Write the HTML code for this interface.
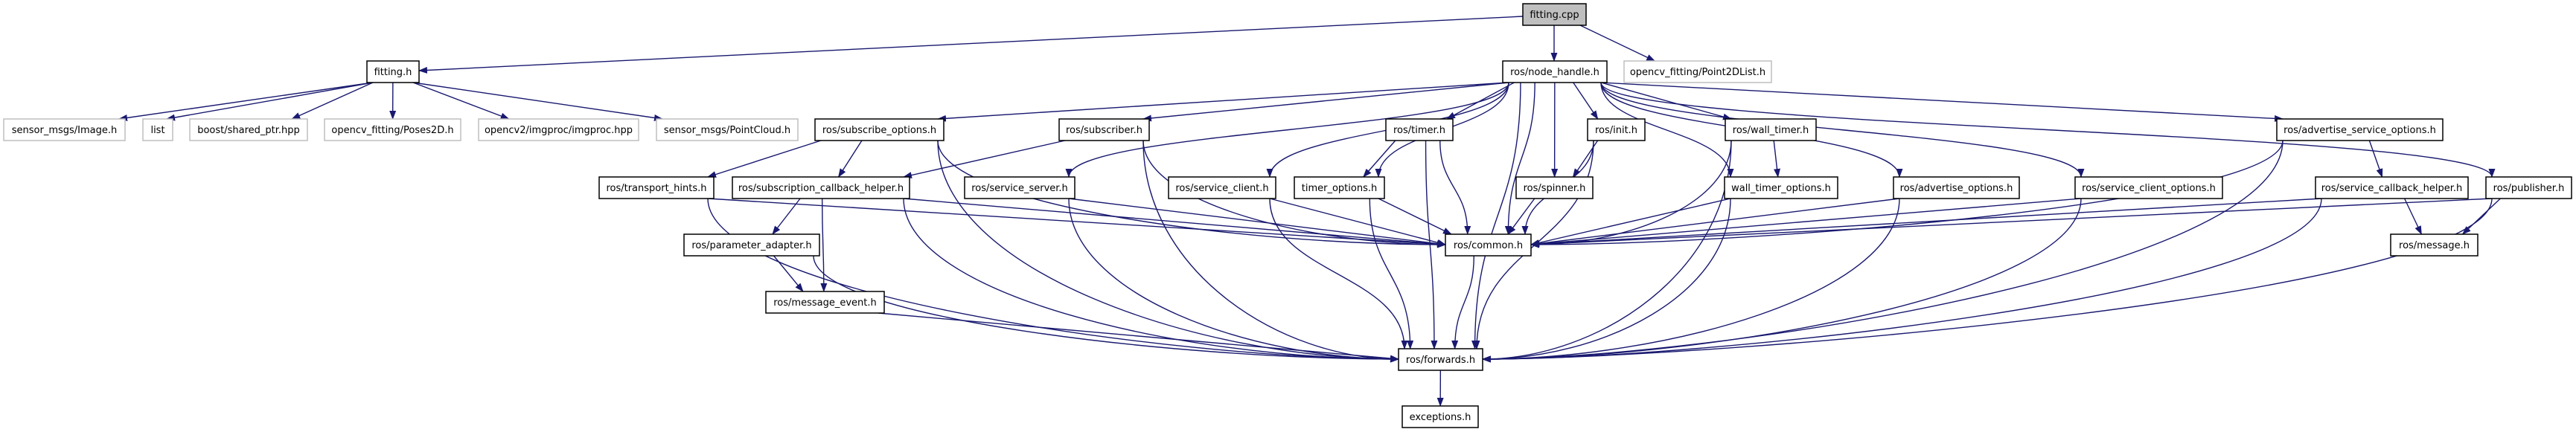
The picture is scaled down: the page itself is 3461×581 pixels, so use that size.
<!DOCTYPE html>
<html><head><meta charset="utf-8"><style>
html,body{margin:0;padding:0;background:#fff;}
svg{display:block;}
text{font-family:"DejaVu Sans","Liberation Sans",sans-serif;font-size:13px;fill:#000;}
</style></head><body>
<svg id="g" width="3461" height="581" viewBox="0 0 3461 581" xmlns="http://www.w3.org/2000/svg">
<defs><marker id="a" markerWidth="12" markerHeight="9" refX="11" refY="4.5" orient="auto" markerUnits="userSpaceOnUse"><polygon points="0,0 12,4.5 0,9" fill="#191970"/></marker></defs>
<g id="edges" fill="none" stroke="#191970" stroke-width="1.4"></g>
<g id="nodes">
<rect x="2046" y="5" width="85" height="29" fill="#bfbfbf" stroke="#000" stroke-width="1.5"/><text x="2088.5" y="24" text-anchor="middle">fitting.cpp</text>
<rect x="493" y="82" width="70" height="29" fill="#fff" stroke="#000" stroke-width="1.5"/><text x="528" y="101" text-anchor="middle">fitting.h</text>
<rect x="2019" y="82" width="140" height="29" fill="#fff" stroke="#000" stroke-width="1.5"/><text x="2089" y="101" text-anchor="middle">ros/node_handle.h</text>
<rect x="2182" y="82" width="198" height="29" fill="#fff" stroke="#bfbfbf" stroke-width="1.5"/><text x="2281" y="101" text-anchor="middle">opencv_fitting/Point2DList.h</text>
<rect x="5" y="160" width="163" height="29" fill="#fff" stroke="#bfbfbf" stroke-width="1.5"/><text x="86.5" y="179" text-anchor="middle">sensor_msgs/Image.h</text>
<rect x="192" y="160" width="40" height="29" fill="#fff" stroke="#bfbfbf" stroke-width="1.5"/><text x="212" y="179" text-anchor="middle">list</text>
<rect x="255" y="160" width="158" height="29" fill="#fff" stroke="#bfbfbf" stroke-width="1.5"/><text x="334" y="179" text-anchor="middle">boost/shared_ptr.hpp</text>
<rect x="436" y="160" width="183" height="29" fill="#fff" stroke="#bfbfbf" stroke-width="1.5"/><text x="527.5" y="179" text-anchor="middle">opencv_fitting/Poses2D.h</text>
<rect x="643" y="160" width="215" height="29" fill="#fff" stroke="#bfbfbf" stroke-width="1.5"/><text x="750.5" y="179" text-anchor="middle">opencv2/imgproc/imgproc.hpp</text>
<rect x="882" y="160" width="190" height="29" fill="#fff" stroke="#bfbfbf" stroke-width="1.5"/><text x="977" y="179" text-anchor="middle">sensor_msgs/PointCloud.h</text>
</g>
</svg>
<script>
var N={
 sub_opt:[1095,1268,2,"ros/subscribe_options.h"],
 subscriber:[1423,1544,2,"ros/subscriber.h"],
 timer:[1862,1952,2,"ros/timer.h"],
 init:[2133,2210,2,"ros/init.h"],
 wall_timer:[2318,2440,2,"ros/wall_timer.h"],
 adv_srv:[3059,3282,2,"ros/advertise_service_options.h"],
 publisher:[3340,3455,3,"ros/publisher.h"],
 th:[805,959,3,"ros/transport_hints.h"],
 sch:[984,1222,3,"ros/subscription_callback_helper.h"],
 ss:[1296,1444,3,"ros/service_server.h"],
 sc:[1570,1714,3,"ros/service_client.h"],
 to:[1739,1860,3,"timer_options.h"],
 spinner:[2037,2140,3,"ros/spinner.h"],
 wto:[2317,2469,3,"wall_timer_options.h"],
 ao:[2544,2713,3,"ros/advertise_options.h"],
 sco:[2788,2986,3,"ros/service_client_options.h"],
 sch2:[3111,3316,3,"ros/service_callback_helper.h"],
 pa:[919,1101,4,"ros/parameter_adapter.h"],
 common:[1942,2057,4,"ros/common.h"],
 message:[3212,3329,4,"ros/message.h"],
 me:[1029,1188,5,"ros/message_event.h"],
 fwd:[1879,1992,6,"ros/forwards.h"],
 exc:[1884,1986,7,"exceptions.h"],
 cpp:[2046,2131,0,""],nh:[2019,2159,1,""],fh:[493,563,1,""],
 img:[5,168,2,""],list:[192,232,2,""],sp:[255,413,2,""],poses:[436,619,2,""],imgproc:[643,858,2,""],pc:[882,1072,2,""],p2d:[2182,2380,1,""]
};
var RY=[5,82,160,238,315,392,469,546];
var ns="http://www.w3.org/2000/svg";
var nodes=document.getElementById("nodes"),edges=document.getElementById("edges");
for(var k in N){var n=N[k];if(!n[3])continue;var y=RY[n[2]];
 var r=document.createElementNS(ns,"rect");r.setAttribute("x",n[0]);r.setAttribute("y",y);r.setAttribute("width",n[1]-n[0]);r.setAttribute("height",29);r.setAttribute("fill","#fff");r.setAttribute("stroke","#000");r.setAttribute("stroke-width","1.5");nodes.appendChild(r);
 var t=document.createElementNS(ns,"text");t.setAttribute("x",(n[0]+n[1])/2);t.setAttribute("y",y+19);t.setAttribute("text-anchor","middle");t.textContent=n[3];nodes.appendChild(t);}
function P(d){var p=document.createElementNS(ns,"path");p.setAttribute("d",d);p.setAttribute("marker-end","url(#a)");edges.appendChild(p);}
function cl(v,a,b){return Math.max(a,Math.min(b,v));}
function E(s,t){var a=N[s],b=N[t];var acx=(a[0]+a[1])/2,bcx=(b[0]+b[1])/2;
 var sy=RY[a[2]]+29,ty=RY[b[2]];var sx=cl(acx+(bcx-acx)*0.3,a[0]+8,a[1]-8);
 var dx=bcx-acx;var rows=b[2]-a[2];
 if((t=="common"||t=="fwd")&&Math.abs(dx)>300){var left=acx<bcx;var tx=left?b[0]:b[1];var tcy=ty+14;
  if(rows<=1){P("M"+sx+","+sy+" L"+tx+","+tcy);return;}
  P("M"+sx+","+sy+" C"+sx+","+(sy+(tcy-sy)*0.6)+" "+(tx+(left?-1:1)*Math.min(300,Math.abs(dx)*0.35))+","+tcy+" "+tx+","+tcy);return;}
 var tx=cl(bcx+(acx-bcx)*0.3,b[0]+8,b[1]-8);
 if(rows<=1){P("M"+sx+","+sy+" L"+tx+","+ty);return;}
 var my=(sy+ty)/2;
 P("M"+sx+","+sy+" C"+sx+","+my+" "+tx+","+my+" "+tx+","+ty);}
P("M2046,22 L563,95");
E("cpp","p2d");
P("M2088,34 L2088,82");
["img","list","sp","poses","imgproc","pc"].forEach(function(t){E("fh",t);});
["sub_opt","subscriber","ss","sc","to","timer","common","spinner","init","wall_timer","wto","ao","sco","adv_srv","publisher","fwd"].forEach(function(t){E("nh",t);});
var L=[["sub_opt","th"],["sub_opt","sch"],["sub_opt","common"],["sub_opt","fwd"],["subscriber","sch"],["subscriber","common"],["subscriber","fwd"],["th","common"],["th","fwd"],["sch","pa"],["sch","me"],["sch","common"],["sch","fwd"],["pa","me"],["pa","fwd"],["me","fwd"],["ss","common"],["ss","fwd"],["sc","common"],["sc","fwd"],["timer","to"],["timer","common"],["timer","fwd"],["to","common"],["to","fwd"],["init","spinner"],["init","common"],["init","fwd"],["spinner","common"],["wall_timer","wto"],["wall_timer","common"],["wall_timer","fwd"],["wto","common"],["wto","fwd"],["ao","common"],["ao","fwd"],["sco","common"],["sco","fwd"],["adv_srv","common"],["adv_srv","sch2"],["adv_srv","fwd"],["sch2","message"],["sch2","common"],["sch2","fwd"],["publisher","message"],["publisher","common"],["publisher","fwd"],["common","fwd"],["fwd","exc"]];
L.forEach(function(e){E(e[0],e[1]);});
</script>
</body></html>
